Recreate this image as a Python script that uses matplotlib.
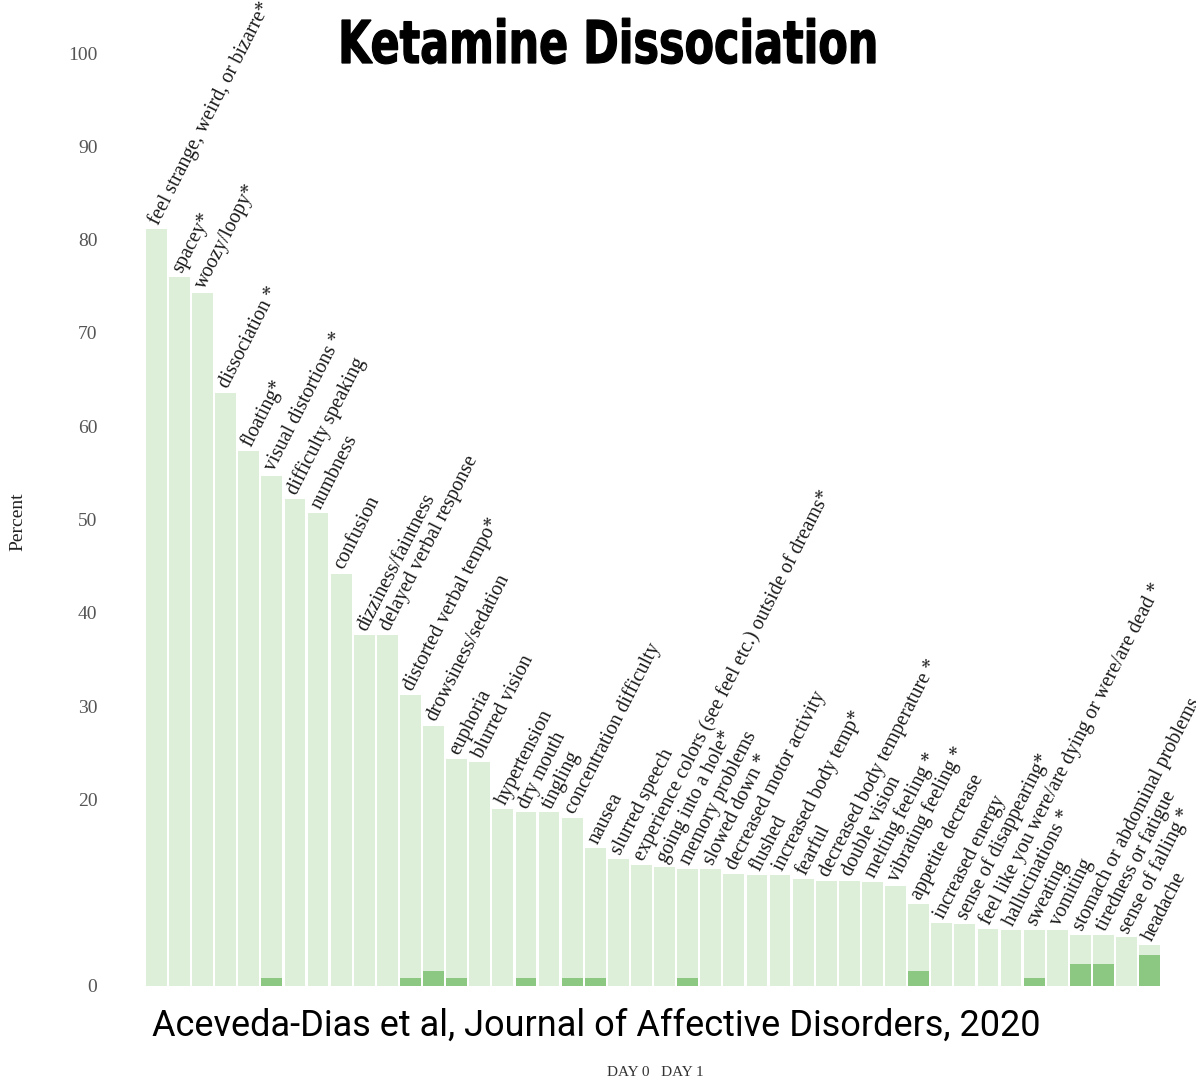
import matplotlib.pyplot as plt
import numpy as np
from matplotlib.textpath import TextPath
from matplotlib.patches import PathPatch
from matplotlib.font_manager import FontProperties
from matplotlib.transforms import Affine2D, IdentityTransform

symptoms = [
    "feel strange, weird, or bizarre*", "spacey*", "woozy/loopy*", "dissociation *",
    "floating*", "visual distortions *", "difficulty speaking", "numbness",
    "confusion", "dizziness/faintness", "delayed verbal response",
    "distorted verbal tempo*", "drowsiness/sedation", "euphoria", "blurred vision",
    "hypertension", "dry mouth", "tingling", "concentration difficulty", "nausea",
    "slurred speech", "experience colors (see feel etc.) outside of dreams*",
    "going into a hole*", "memory problems", "slowed down *", "decreased motor activity",
    "flushed", "increased body temp*", "fearful", "decreased body temperature *",
    "double vision", "melting feeling *", "vibrating feeling *", "appetite decrease",
    "increased energy", "sense of disappearing*",
    "feel like you were/are dying or were/are dead *", "hallucinations *", "sweating",
    "vomiting", "stomach or abdominal problems", "tiredness or fatigue",
    "sense of falling *", "headache",
]

day0 = [81.1, 76.0, 74.3, 63.6, 57.3, 54.7, 52.2, 50.7, 44.2, 37.6, 37.6,
        31.2, 27.9, 24.3, 24.0, 19.0, 18.6, 18.6, 18.0, 14.8, 13.6, 13.0,
        12.8, 12.5, 12.5, 12.0, 11.9, 11.9, 11.5, 11.3, 11.3, 11.2, 10.7,
        8.8, 6.8, 6.6, 6.1, 6.0, 6.0, 6.0, 5.5, 5.5, 5.2, 4.4]

day1 = [0, 0, 0, 0, 0, 0.9, 0, 0, 0, 0, 0,
        0.9, 1.6, 0.9, 0, 0, 0.9, 0, 0.9, 0.9, 0, 0,
        0, 0.9, 0, 0, 0, 0, 0, 0, 0, 0, 0,
        1.6, 0, 0, 0, 0, 0.9, 0, 2.4, 2.4, 0, 3.3]

yticks = [0, 20, 30, 40, 50, 60, 70, 80, 90, 100]

light_green = "#ddefd8"
dark_green = "#8dc883"
serif = "Liberation Serif"

W, H = 1196, 1083
fig = plt.figure(figsize=(W / 100, H / 100), dpi=100)
ax = fig.add_axes([146 / W, 1 - 986 / H, (1160 - 146) / W, (986 - 53) / H])

x = np.arange(len(symptoms))
ax.bar(x, day0, width=0.9, color=light_green, zorder=1)
ax.bar(x, day1, width=0.9, color=dark_green, zorder=2)

# slanted labels sitting on top of each bar
for xi, val, name in zip(x, day0, symptoms):
    ax.text(xi + 0.28, val + 0.1, name, rotation=63, rotation_mode="anchor",
            ha="left", va="bottom", fontsize=14.5, family=serif,
            color="#1a1a1a", clip_on=False)

ax.set_xlim(-0.45, len(symptoms) - 0.55)
ax.set_ylim(0, 100)
ax.set_xticks([])
ax.set_yticks(yticks)
ax.set_yticklabels([str(t) for t in yticks], family=serif, fontsize=14, color="#555555")
ax.tick_params(axis="y", length=0, pad=35)
for s in ax.spines.values():
    s.set_visible(False)

fig.text(18 / W, 1 - 522 / H, "Percent", rotation=90, ha="center", va="center",
         family=serif, fontsize=14, color="#222222")

# heavy condensed title: squeeze a bold outline to the wanted box (pixels)
title = "Ketamine Dissociation"
bold = FontProperties(family="DejaVu Sans", weight="bold")
tp = TextPath((0, 0), title, size=100, prop=bold)
cap = TextPath((0, 0), "K", size=100, prop=bold).get_extents()
ext = tp.get_extents()
x0, x1 = 342, 875
cap_h = 43
sx = (x1 - x0) / ext.width
sy = cap_h / cap.height
tr = Affine2D().translate(-ext.x0, 0).scale(sx, sy).translate(x0, H - 63)
fig.patches.append(PathPatch(tr.transform_path(tp), transform=IdentityTransform(),
                             facecolor="black", edgecolor="black", lw=0.9, figure=fig))

fig.text(596 / W, 1 - 1026 / H, "Aceveda-Dias et al, Journal of Affective Disorders, 2020",
         ha="center", va="center", fontsize=26, family="Roboto", color="black")

fig.text(655 / W, 1 - 1073 / H, "DAY 0   DAY 1", ha="center", va="center",
         fontsize=11, family=serif, color="#333333")

fig.savefig("out.png", dpi=100, facecolor="white")
